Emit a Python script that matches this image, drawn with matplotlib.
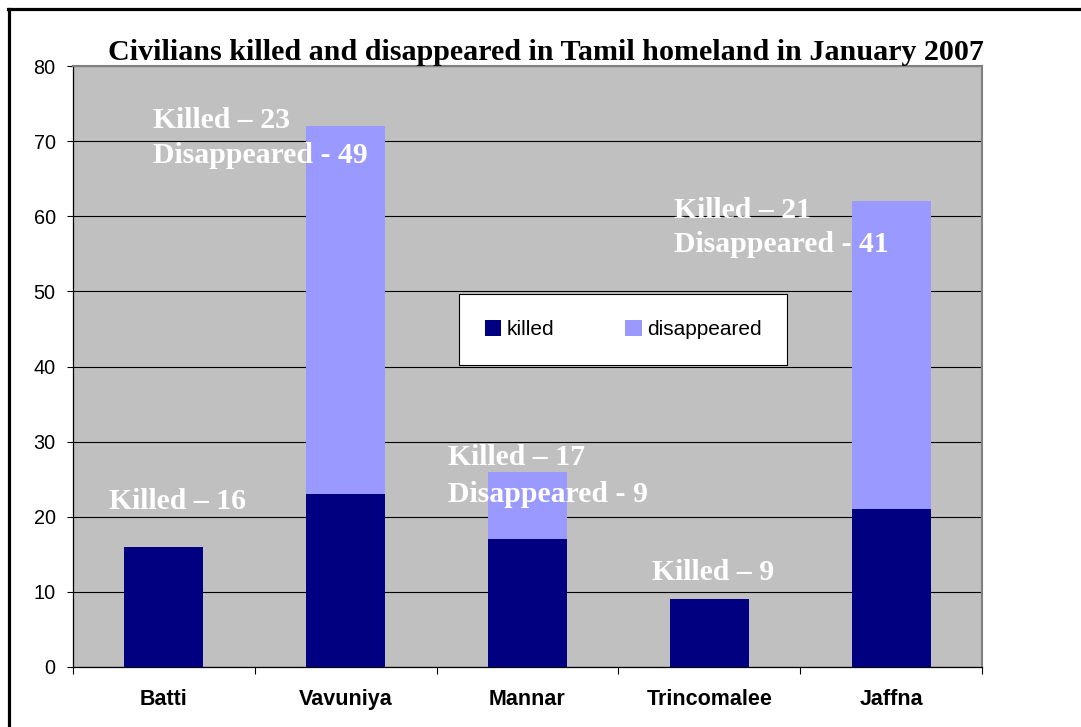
import matplotlib
matplotlib.use("Agg")
import matplotlib.pyplot as plt
from matplotlib.lines import Line2D
import numpy as np

# ---- data ----
categories = ["Batti", "Vavuniya", "Mannar", "Trincomalee", "Jaffna"]
killed = [16, 23, 17, 9, 21]
disappeared = [0, 49, 9, 0, 41]
series_names = ["killed", "disappeared"]
title = "Civilians killed and disappeared in Tamil homeland in January 2007"
y_ticks = [0, 10, 20, 30, 40, 50, 60, 70, 80]

# annotation texts per category (lines)
notes = [
    ["Killed \u2013 16"],
    ["Killed \u2013 23", "Disappeared - 49"],
    ["Killed \u2013 17", "Disappeared - 9"],
    ["Killed \u2013 9"],
    ["Killed \u2013 21", "Disappeared - 41"],
]

# ---- style ----
c_killed = "#000080"
c_disp = "#9999FF"
bg = "#C0C0C0"
serif = ["Liberation Serif", "DejaVu Serif"]
sans = ["Liberation Sans", "DejaVu Sans"]

fig = plt.figure(figsize=(10.81, 7.27), dpi=100)
W, H = 1081, 727
ax = fig.add_axes([73 / W, 1 - 667 / H, (982 - 73) / W, (667 - 66) / H])
ax.set_facecolor(bg)

x = np.arange(len(categories))
bw = 0.435
ax.bar(x, killed, width=bw, color=c_killed, label=series_names[0], zorder=3)
ax.bar(x, disappeared, width=bw, bottom=killed, color=c_disp,
       label=series_names[1], zorder=3)

ax.set_xlim(-0.5, len(categories) - 0.5)
ax.set_ylim(0, 80)
ax.set_yticks(y_ticks)
ax.set_yticklabels([str(v) for v in y_ticks], fontfamily=sans, fontsize=14.3)
ax.yaxis.grid(True, color="black", linewidth=0.8, zorder=1)
ax.set_axisbelow(True)
ax.tick_params(axis="y", direction="out", length=4.5, width=0.8, pad=8,
               color="black")

ax.set_xticks(x)
ax.set_xticklabels(categories, fontfamily=sans, fontweight="bold", fontsize=15.5)
ax.set_xticks(np.arange(-0.5, len(categories)), minor=True)
ax.tick_params(axis="x", which="major", length=0, pad=16)
ax.tick_params(axis="x", which="minor", direction="out", length=5, width=0.8,
               color="black")

for s in ["left", "bottom"]:
    ax.spines[s].set_color("black")
    ax.spines[s].set_linewidth(0.9)
for s in ["top", "right"]:
    ax.spines[s].set_color("#808080")
    ax.spines[s].set_linewidth(1.5)

# annotation anchors (data coords: x offset from category, baseline y)
note_pos = [(-0.302, 21.0), (-1.059, 71.75), (-0.439, 26.9), (-0.315, 11.6),
            (-1.194, 59.8)]
note_dy = [0, 4.6, 4.9, 0, 4.6]
for i, lines in enumerate(notes):
    nx, ny = note_pos[i]
    for j, t in enumerate(lines):
        ax.text(i + nx, ny - j * note_dy[i], t, fontfamily=serif,
                fontweight="bold", fontsize=21.4, color="white",
                ha="left", va="baseline", zorder=5)

leg = ax.legend(loc="center", bbox_to_anchor=((623 - 73) / 909, (667 - 329.5) / 601),
                ncol=2, prop={"family": sans, "size": 15}, frameon=True,
                fancybox=False, framealpha=1, edgecolor="black",
                handlelength=0.8, handleheight=0.8, handletextpad=0.25,
                columnspacing=3.4, borderpad=1.25)
leg.get_frame().set_linewidth(0.8)
leg.set_zorder(6)

fig.text(546 / W, 1 - 60 / H, title, ha="center", va="baseline",
         fontfamily=serif, fontweight="bold", fontsize=21.6)

# outer frame (only left and top are visible)
fig.add_artist(Line2D([9 / W, 9 / W], [0, 1 - 9 / H], transform=fig.transFigure,
                      color="black", linewidth=2.3))
fig.add_artist(Line2D([8 / W, 1], [1 - 9 / H, 1 - 9 / H], transform=fig.transFigure,
                      color="black", linewidth=2.3))

fig.savefig("out.png", dpi=100)
